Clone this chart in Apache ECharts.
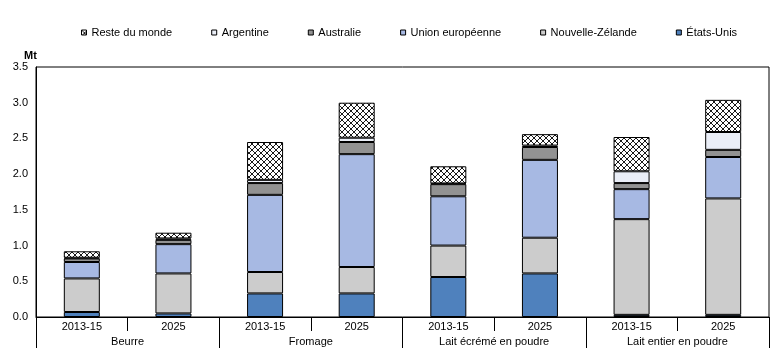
<!DOCTYPE html>
<html>
<head>
<meta charset="utf-8">
<script src="https://cdn.jsdelivr.net/npm/echarts@6/dist/echarts.min.js"></script>
<style>html,body{margin:0;padding:0;background:#fff}#c{width:775px;height:360px}</style>
</head>
<body>
<div id="c"></div>
<script>
var years = ['2013-15','2025','2013-15','2025','2013-15','2025','2013-15','2025'];
var groups = ['Beurre','Fromage','Lait écrémé en poudre','Lait entier en poudre'];
var yTicks = [0, 0.5, 1.0, 1.5, 2.0, 2.5, 3.0, 3.5];
var etatsUnis      = [0.07, 0.05, 0.33, 0.33, 0.56, 0.61, 0.03, 0.03];
var nouvelleZelande= [0.47, 0.56, 0.30, 0.37, 0.44, 0.50, 1.34, 1.63];
var unionEuropeenne= [0.23, 0.41, 1.08, 1.58, 0.69, 1.09, 0.42, 0.58];
var australie      = [0.05, 0.06, 0.165, 0.17, 0.17, 0.18, 0.085, 0.10];
var argentine      = [0.01, 0.02, 0.045, 0.06, 0.01, 0.02, 0.165, 0.25];
var resteDuMonde   = [0.09, 0.08, 0.53, 0.49, 0.24, 0.16, 0.48, 0.45];

var cv = document.createElement('canvas');
cv.width = 6; cv.height = 6;
var cx = cv.getContext('2d');
cx.fillStyle = '#fff'; cx.fillRect(0,0,6,6);
cx.strokeStyle = '#000'; cx.lineWidth = 0.9;
cx.beginPath(); cx.moveTo(0,0); cx.lineTo(6,6); cx.moveTo(6,0); cx.lineTo(0,6); cx.stroke();
var hatch = {image: cv, repeat: 'repeat'};

var chart = echarts.init(document.getElementById('c'), null, {renderer:'canvas'});
function s(name, data, color){
  return {name:name, type:'bar', stack:'t', data:data, barWidth:36,
    itemStyle:{color:color, borderColor:'#000', borderWidth:1}};
}
var font = 'Liberation Sans, Arial, sans-serif';
chart.setOption({
  animation:false,
  textStyle:{fontFamily:font},
  title:{text:'Mt', left:19, top:45, textStyle:{fontSize:11, fontWeight:'bold', color:'#000', fontFamily:font}},
  legend:{
    top:22, left:76, icon:'rect', itemWidth:5, itemHeight:5, itemGap:39,
    data:['Reste du monde','Argentine','Australie','Union européenne','Nouvelle-Zélande','États-Unis'],
    textStyle:{fontSize:11, color:'#000', fontFamily:font},
    itemStyle:{borderColor:'#000', borderWidth:1}
  },
  grid:{left:36, right:6, top:67, bottom:43, show:true, borderColor:'#000', borderWidth:1, backgroundColor:'transparent'},
  xAxis:[
    {type:'category', position:'bottom', data:years, boundaryGap:true,
     axisLine:{lineStyle:{color:'#000', width:1}},
     axisTick:{show:true, interval:0, length:14, lineStyle:{color:'#000'}},
     axisLabel:{interval:0, margin:4, fontSize:11, color:'#000', fontFamily:font}},
    {type:'category', position:'bottom', data:groups, boundaryGap:true,
     axisLine:{show:false},
     axisTick:{show:true, interval:0, length:31, lineStyle:{color:'#000'}},
     axisLabel:{interval:0, margin:19, fontSize:11, color:'#000', fontFamily:font}}
  ],
  yAxis:{type:'value', min:yTicks[0], max:yTicks[yTicks.length-1], interval:0.5,
    splitLine:{show:false},
    axisLine:{show:true, lineStyle:{color:'#000'}},
    axisTick:{show:false},
    axisLabel:{margin:8, fontSize:11, color:'#000', fontFamily:font, formatter:function(v){return v.toFixed(1);}}},
  series:[
    s('États-Unis', etatsUnis, '#4F81BD'),
    s('Nouvelle-Zélande', nouvelleZelande, '#CCCCCC'),
    s('Union européenne', unionEuropeenne, '#A7B9E3'),
    s('Australie', australie, '#929292'),
    s('Argentine', argentine, '#EAEEF7'),
    s('Reste du monde', resteDuMonde, hatch)
  ]
});
</script>
</body>
</html>
